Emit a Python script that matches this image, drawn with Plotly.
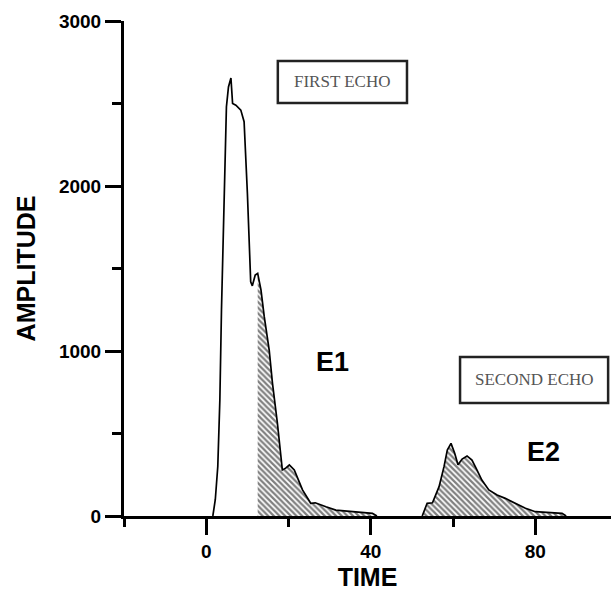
import plotly.graph_objects as go

# First echo: time and amplitude samples
time_e1 = [1.6, 2.2, 2.8, 3.3, 3.7, 4.0, 4.6, 4.9, 5.4, 6.0, 6.4, 7.2, 8.4, 9.2,
           10.0, 10.8, 11.2, 11.9, 12.5, 13.3, 14.1, 15.3, 16.1, 17.3, 18.5, 19.3,
           20.2, 21.4, 23.4, 25.4, 26.5, 27.4, 29.1, 31.5, 35.6, 38.8, 40.4, 41.5]
amp_e1 = [0, 100, 300, 700, 1250, 1610, 2240, 2480, 2600, 2654, 2500, 2490, 2460, 2390,
          1955, 1420, 1395, 1460, 1470, 1370, 1208, 1006, 804, 562, 279, 290,
          309, 279, 158, 77, 80, 73, 56, 36, 26, 20, 16, 0]

# Second echo: time and amplitude samples
time_e2 = [52.5, 53.2, 53.7, 55.0, 56.6, 57.8, 58.6, 59.5, 60.4, 61.2, 62.2, 63.4,
           64.6, 65.8, 67.0, 68.7, 70.7, 72.7, 75.2, 77.6, 80.0, 83.3, 86.5, 87.5]
amp_e2 = [0, 50, 77, 80, 178, 299, 400, 440, 380, 310, 345, 364,
          339, 279, 218, 158, 127, 107, 77, 47, 26, 20, 16, 0]

# Start of the integrated (hatched) part of the first echo
e1_hatch_start = 12.5

x_ticks = [0, 40, 80]
y_ticks = [0, 1000, 2000, 3000]

hatch = dict(shape="\\", size=4, solidity=0.55, fgcolor="black", bgcolor="white")

fig = go.Figure()

# hatched area under the tail of the first echo
idx = [i for i, t in enumerate(time_e1) if t >= e1_hatch_start]
fig.add_trace(go.Scatter(
    x=[time_e1[i] for i in idx], y=[amp_e1[i] for i in idx],
    mode="lines", line=dict(width=0), fill="tozeroy",
    fillcolor="white", fillpattern=hatch, hoverinfo="skip"))

# hatched area under the second echo
fig.add_trace(go.Scatter(
    x=time_e2, y=amp_e2, mode="lines", line=dict(width=0), fill="tozeroy",
    fillcolor="white", fillpattern=hatch, hoverinfo="skip"))

# outlines
for tx, ay in ((time_e1, amp_e1), (time_e2, amp_e2)):
    fig.add_trace(go.Scatter(x=tx, y=ay, mode="lines",
                             line=dict(color="black", width=1.7)))

bold = dict(family="Liberation Sans, Arial, sans-serif", color="black", weight="bold")

fig.update_layout(
    width=611, height=593,
    margin=dict(l=124, r=0, t=21, b=77),
    paper_bgcolor="white", plot_bgcolor="white",
    showlegend=False,
    xaxis=dict(
        range=[-20, 98.4], tickvals=x_ticks, ticktext=[str(v) for v in x_ticks],
        showline=True, linewidth=3, linecolor="black",
        ticks="outside", ticklen=16, tickwidth=3, tickcolor="black",
        minor=dict(dtick=20, tick0=0, ticks="outside", ticklen=8,
                   tickwidth=3, tickcolor="black"),
        showgrid=False, zeroline=False,
        tickfont=dict(size=19, **bold),
        title=dict(text="TIME", font=dict(size=25, **bold), standoff=8),
    ),
    yaxis=dict(
        range=[0, 3000], tickvals=y_ticks, ticktext=[str(v) for v in y_ticks],
        showline=True, linewidth=3, linecolor="black",
        ticks="outside", ticklen=16, tickwidth=3, tickcolor="black",
        minor=dict(dtick=500, tick0=0, ticks="outside", ticklen=9,
                   tickwidth=3, tickcolor="black"),
        showgrid=False, zeroline=False,
        tickfont=dict(size=19, **bold),
        title=dict(text="AMPLITUDE", font=dict(size=25, **bold), standoff=17),
    ),
)

serif = dict(family="Liberation Serif, Times New Roman, serif", size=17, color="#555")

# labelled boxes
boxes = [("FIRST ECHO", 17.4, 48.8, 2503, 2758),
         ("SECOND ECHO", 61.7, 97.7, 685, 964)]
for text, x0, x1, y0, y1 in boxes:
    fig.add_shape(type="rect", x0=x0, x1=x1, y0=y0, y1=y1, xref="x", yref="y",
                  line=dict(color="#222", width=2.5), fillcolor="white", layer="above")
    fig.add_annotation(x=(x0 + x1) / 2, y=(y0 + y1) / 2, text=text, showarrow=False,
                       font=serif, xanchor="center", yanchor="middle")

# echo names
for text, x, y in (("E1", 30.6, 933), ("E2", 81.9, 388)):
    fig.add_annotation(x=x, y=y, text=text, showarrow=False,
                       font=dict(size=27, **bold), xanchor="center", yanchor="middle")

fig.write_html("out.html")
